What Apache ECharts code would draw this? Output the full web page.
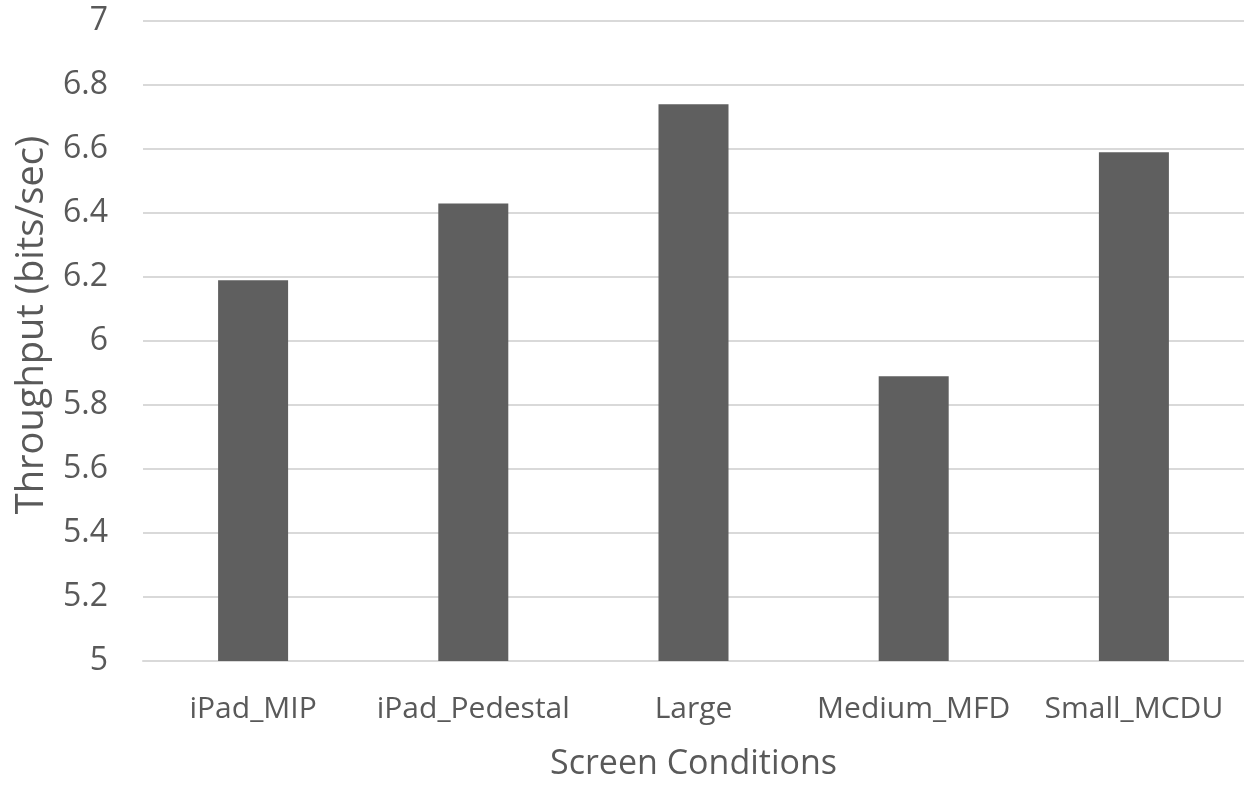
<!DOCTYPE html>
<html>
<head>
<meta charset="utf-8">
<script src="https://cdn.jsdelivr.net/npm/echarts@6/dist/echarts.min.js"></script>
<style>
  html, body { margin: 0; padding: 0; background: #ffffff; }
  #chart { width: 1244px; height: 786px; }
</style>
</head>
<body>
<div id="chart"></div>
<script>
// Throughput per screen condition
const categories = ['iPad_MIP', 'iPad_Pedestal', 'Large', 'Medium_MFD', 'Small_MCDU'];
const throughput = [6.19, 6.43, 6.74, 5.89, 6.59];
const xTitle = 'Screen Conditions';
const yTitle = 'Throughput (bits/sec)';

const FONT = '"Open Sans", "Noto Sans", sans-serif';
const TEXT = '#595959';

const chart = echarts.init(document.getElementById('chart'));
chart.setOption({
  animation: false,
  backgroundColor: '#ffffff',
  grid: { left: 143, width: 1104, top: 21, height: 643 },
  // vertical axis title, drawn as a rotated text element
  graphic: [{
    type: 'text',
    x: 32,
    y: 325,
    rotation: Math.PI / 2,
    style: {
      text: yTitle,
      fontFamily: FONT,
      fontSize: 38,
      fill: TEXT,
      align: 'center',
      verticalAlign: 'middle'
    }
  }],
  xAxis: {
    type: 'category',
    data: categories,
    name: xTitle,
    nameLocation: 'middle',
    nameGap: 86,
    nameTextStyle: { fontFamily: FONT, fontSize: 34, color: TEXT },
    axisLine: { show: true, lineStyle: { color: '#d9d9d9', width: 2 } },
    axisTick: { show: false },
    axisLabel: { fontFamily: FONT, fontSize: 30, color: TEXT, margin: 33, interval: 0 }
  },
  yAxis: {
    type: 'value',
    min: 5,
    max: 7,
    interval: 0.2,
    axisLine: { show: false },
    axisTick: { show: false },
    axisLabel: {
      fontFamily: FONT, fontSize: 32, color: TEXT, margin: 35,
      formatter: v => String(Math.round(v * 10) / 10)
    },
    splitLine: { lineStyle: { color: '#d9d9d9', width: 2 } }
  },
  series: [{
    type: 'bar',
    data: throughput,
    barWidth: 70,
    itemStyle: { color: '#5f5f5f' }
  }]
});
</script>
</body>
</html>
